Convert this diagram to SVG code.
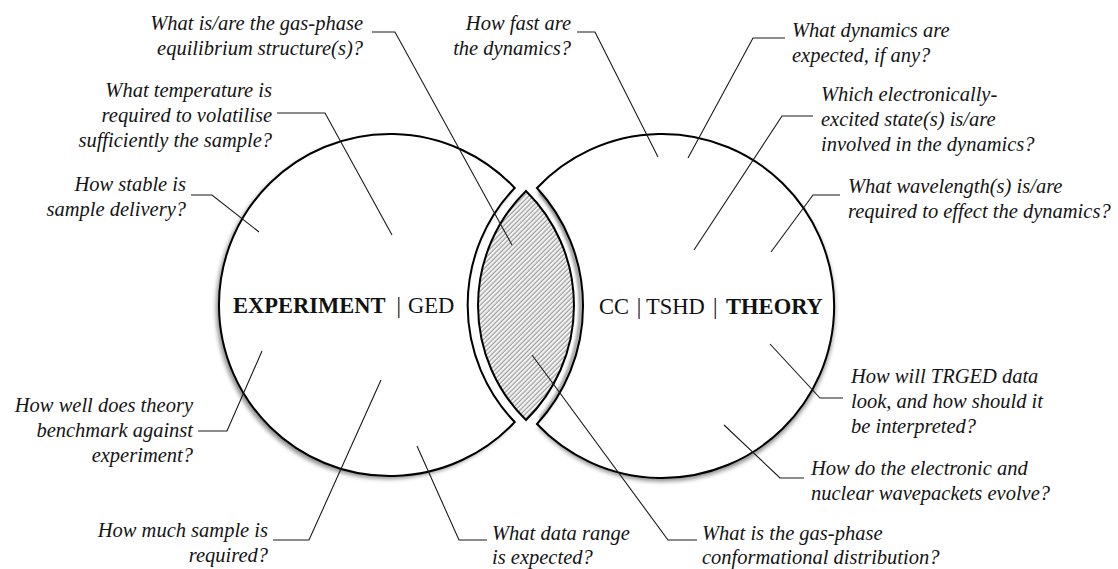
<svg xmlns="http://www.w3.org/2000/svg" width="1118" height="569" viewBox="0 0 1118 569">
<style>
.q{font-family:"Liberation Serif","Times New Roman",serif;font-style:italic;font-size:20.5px;fill:#141414}
.e{text-anchor:end}
.lbl{font-family:"Liberation Serif","Times New Roman",serif;font-size:22.5px;fill:#111}
.b{font-weight:bold}
.shape{fill:#fff;stroke:none}
.outline{fill:none;stroke:#000;stroke-width:2}
.conn path{fill:none;stroke:#1a1a1a;stroke-width:1.1}
</style>
<defs>
<filter id="shL" x="-10%" y="-10%" width="120%" height="120%"><feDropShadow dx="-3" dy="3" stdDeviation="2" flood-color="#000" flood-opacity="0.45"/></filter>
<filter id="shR" x="-10%" y="-10%" width="120%" height="120%"><feDropShadow dx="1" dy="3.5" stdDeviation="2" flood-color="#000" flood-opacity="0.45"/></filter>
<filter id="blur" x="-20%" y="-20%" width="140%" height="140%"><feGaussianBlur stdDeviation="1.6"/></filter>
<pattern id="hatch" patternUnits="userSpaceOnUse" width="3.3" height="10" patternTransform="rotate(45)">
<rect width="3.3" height="10" fill="#f4f4f4"/>
<line x1="1" y1="0" x2="1" y2="10" stroke="#8c8c8c" stroke-width="1"/>
</pattern>
</defs>
<rect width="1118" height="569" fill="#fff"/>

<g id="experiment">
<path class="shape" filter="url(#shL)" d="M514.7,188 A171,171 0 1 0 514.7,422 A169,169 0 0 1 514.7,188 Z"/>
<path class="outline" d="M514.7,188 A171,171 0 1 0 514.7,422 A169,169 0 0 1 514.7,188 Z"/>
<text class="lbl" x="233" y="313"><tspan class="b">EXPERIMENT</tspan><tspan dx="11">|</tspan><tspan dx="7">GED</tspan></text>
</g>

<g id="theory">
<path class="shape" filter="url(#shR)" d="M537,188 A172,172 0 1 1 537,424 A174.3,174.3 0 0 0 537,188 Z"/>
<path d="M540,193 A178,178 0 0 1 540,419" fill="none" stroke="#8a8a8a" stroke-width="3" filter="url(#blur)"/>
<path class="outline" d="M537,188 A172,172 0 1 1 537,424 A174.3,174.3 0 0 0 537,188 Z"/>
<text class="lbl" x="599" y="314">CC<tspan dx="7.8">|</tspan><tspan dx="4.7">TSHD</tspan><tspan dx="8.1">|</tspan><tspan dx="8.7" class="b">THEORY</tspan></text>
</g>

<g id="overlap">
<path d="M526,191 A160.6,160.6 0 0 0 526,420 A160.6,160.6 0 0 0 526,191 Z" fill="url(#hatch)" stroke="#000" stroke-width="2"/>
</g>

<g id="connectors" class="conn">
<path d="M372,32 H395 L512,245"/>
<path d="M277,113 H325 L392,235"/>
<path d="M191,195 H212 L259,232"/>
<path d="M198,431 H227 L262,351"/>
<path d="M273,540 H309 L381,380"/>
<path d="M487,540 H459 L417,446"/>
<path d="M697,540 H668 L532,355"/>
<path d="M804,478 H780 L724,425"/>
<path d="M843,398 H820 L770,344"/>
<path d="M840,195 H813 L771,252"/>
<path d="M813,116 H782 L694,250"/>
<path d="M785,38 H753 L688,158"/>
<path d="M577,32 H595 L658,157"/>
</g>

<g id="q-equilibrium"><text class="q e"><tspan x="363" y="30">What is/are the gas-phase</tspan><tspan x="363" y="55">equilibrium structure(s)?</tspan></text></g>
<g id="q-temperature"><text class="q e"><tspan x="272" y="97">What temperature is</tspan><tspan x="272" y="122">required to volatilise</tspan><tspan x="272" y="147">sufficiently the sample?</tspan></text></g>
<g id="q-stable"><text class="q e"><tspan x="186" y="191">How stable is</tspan><tspan x="186" y="216">sample delivery?</tspan></text></g>
<g id="q-benchmark"><text class="q e"><tspan x="193" y="412">How well does theory</tspan><tspan x="193" y="437">benchmark against</tspan><tspan x="193" y="462">experiment?</tspan></text></g>
<g id="q-much"><text class="q e"><tspan x="268" y="537">How much sample is</tspan><tspan x="268" y="562">required?</tspan></text></g>
<g id="q-range"><text class="q"><tspan x="492" y="540">What data range</tspan><tspan x="492" y="564">is expected?</tspan></text></g>
<g id="q-conformational"><text class="q"><tspan x="702" y="540">What is the gas-phase</tspan><tspan x="702" y="564">conformational distribution?</tspan></text></g>
<g id="q-wavepackets"><text class="q"><tspan x="811" y="475">How do the electronic and</tspan><tspan x="811" y="500">nuclear wavepackets evolve?</tspan></text></g>
<g id="q-trged"><text class="q"><tspan x="851" y="383">How will TRGED data</tspan><tspan x="851" y="408">look, and how should it</tspan><tspan x="851" y="433">be interpreted?</tspan></text></g>
<g id="q-wavelength"><text class="q"><tspan x="848" y="193">What wavelength(s) is/are</tspan><tspan x="848" y="218">required to effect the dynamics?</tspan></text></g>
<g id="q-excited"><text class="q"><tspan x="821" y="101">Which electronically-</tspan><tspan x="821" y="126">excited state(s) is/are</tspan><tspan x="821" y="151">involved in the dynamics?</tspan></text></g>
<g id="q-expected"><text class="q"><tspan x="792" y="37">What dynamics are</tspan><tspan x="792" y="62">expected, if any?</tspan></text></g>
<g id="q-fast"><text class="q e"><tspan x="571" y="30">How fast are</tspan><tspan x="571" y="55">the dynamics?</tspan></text></g>
</svg>
